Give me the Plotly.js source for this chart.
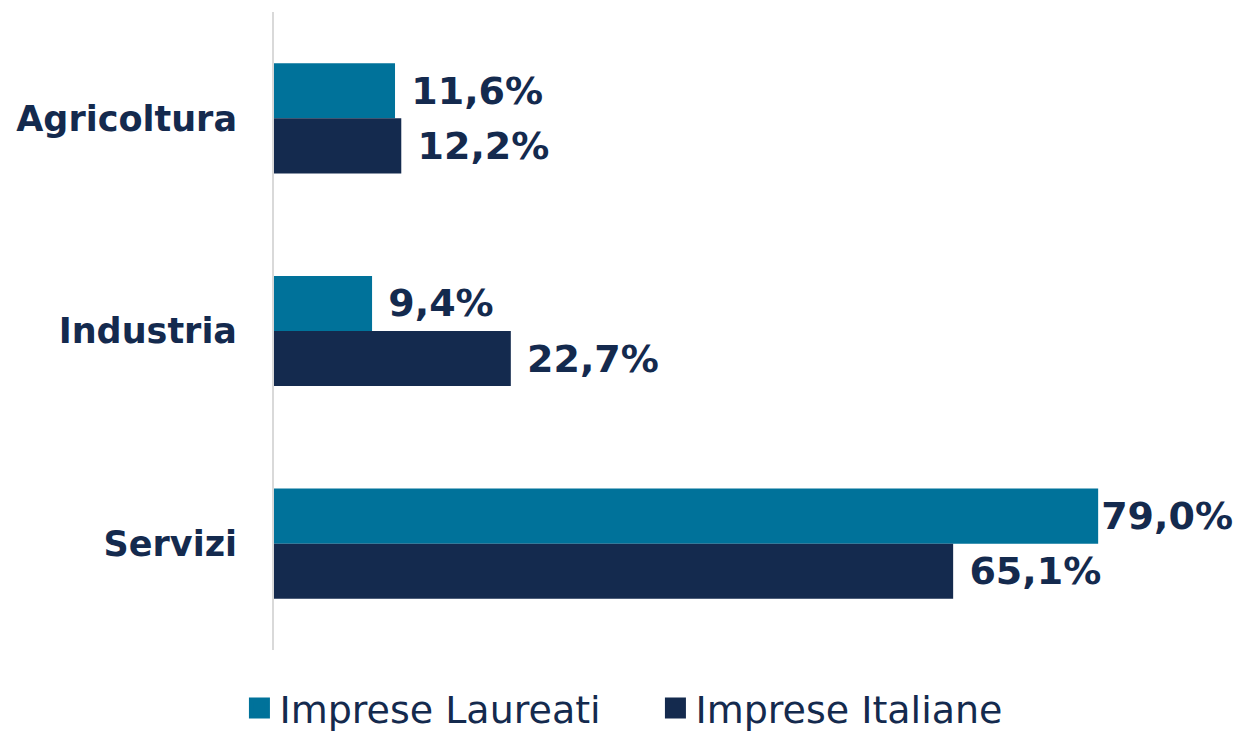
<!DOCTYPE html>
<html>
<head>
<meta charset="utf-8">
<script src="https://cdn.plot.ly/plotly-3.0.1.min.js"></script>
<style>html,body{margin:0;padding:0;background:#fff;}#chart{width:1239px;height:734px;}</style>
</head>
<body>
<div id="chart"></div>
<script>
var categories = ["Agricoltura", "Industria", "Servizi"];
var seriesNames = ["Imprese Laureati", "Imprese Italiane"];
var laureati = [11.6, 9.4, 79.0];
var italiane = [12.2, 22.7, 65.1];

var overallMax = Math.max.apply(null, laureati.concat(italiane));
function fmt(v) {
  var s = v.toFixed(1).replace(".", ",") + "%";
  // leave a small gap after the bar, except where the label would run off the page
  return (v < overallMax ? "\u00a0" : "") + s;
}

var navy = "#142A4E";
var teal = "#00729A";
var family = "DejaVu Sans, Verdana, sans-serif";
var labelFont = {family: family, size: 38, color: navy, weight: "bold"};
var tickFont = {family: family, size: 35, color: navy, weight: "bold"};

var traces = [
  {type: "bar", orientation: "h", name: seriesNames[0], y: categories, x: laureati,
   text: laureati.map(fmt), textposition: "outside", textfont: labelFont, cliponaxis: false,
   marker: {color: teal}, hoverinfo: "none", showlegend: false},
  {type: "bar", orientation: "h", name: seriesNames[1], y: categories, x: italiane,
   text: italiane.map(fmt), textposition: "outside", textfont: labelFont, cliponaxis: false,
   marker: {color: navy}, hoverinfo: "none", showlegend: false},
  {type: "scatter", mode: "markers", name: seriesNames[0], x: [null], y: [null],
   marker: {symbol: "square", size: 16, color: teal, line: {color: teal, width: 5}}, hoverinfo: "none"},
  {type: "scatter", mode: "markers", name: seriesNames[1], x: [null], y: [null],
   marker: {symbol: "square", size: 16, color: navy, line: {color: navy, width: 5}}, hoverinfo: "none"}
];

var layout = {
  width: 1239, height: 734,
  margin: {l: 274, r: 0, t: 12, b: 84},
  paper_bgcolor: "#fff", plot_bgcolor: "#fff",
  barmode: "group", bargap: 0.482, bargroupgap: 0,
  showlegend: true,
  legend: {orientation: "h", x: 0.529, xref: "container", xanchor: "center",
           y: 0.078, yref: "container", yanchor: "top",
           font: {family: family, size: 38, color: navy},
           itemwidth: 30, traceorder: "normal", entrywidth: 371, entrywidthmode: "pixels"},
  xaxis: {range: [0, 92.5], visible: false, showgrid: false, zeroline: false, fixedrange: true,
          automargin: false},
  yaxis: {autorange: "reversed", showline: true, linecolor: "#d9d9d9", linewidth: 2,
          ticks: "", showgrid: false, zeroline: false, ticklabelstandoff: 28,
          tickfont: tickFont, fixedrange: true, automargin: false}
};

Plotly.newPlot("chart", traces, layout, {staticPlot: true, displayModeBar: false});
</script>
</body>
</html>
